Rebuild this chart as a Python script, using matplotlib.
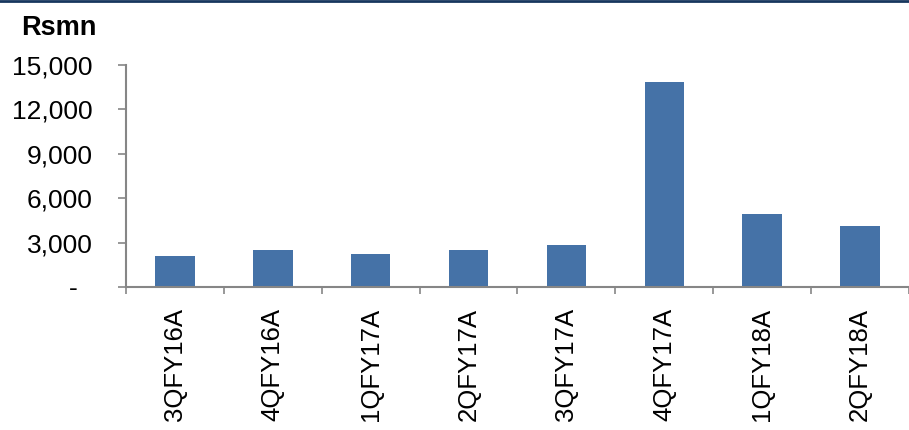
import numpy as np
import matplotlib.pyplot as plt
from matplotlib.lines import Line2D

plt.rcParams['font.family'] = ['Liberation Sans', 'DejaVu Sans']

# quarterly values, Rs mn
quarters = ["3QFY16A", "4QFY16A", "1QFY17A", "2QFY17A",
            "3QFY17A", "4QFY17A", "1QFY18A", "2QFY18A"]
values = [2100, 2500, 2230, 2500, 2850, 13850, 4930, 4120]
yticks = [0, 3000, 6000, 9000, 12000, 15000]
ytick_labels = ["-  ", "3,000", "6,000", "9,000", "12,000", "15,000"]

fig = plt.figure(figsize=(9.09, 4.30), dpi=100)
ax = fig.add_axes([0.1386, 0.3326, 1 - 0.1386, 0.8488 - 0.3326])

x = np.arange(len(quarters))
ax.bar(x, values, width=0.404, color="#4572A7", zorder=2)

ax.set_ylim(0, 15000)
ax.set_xlim(-0.5, 7.41)
ax.set_yticks(yticks)
ax.set_yticklabels(ytick_labels)
ax.set_xticks(x)
ax.set_xticklabels(quarters, rotation=90, va="top", ha="center")
ax.set_xticks(np.arange(-0.5, len(quarters), 1), minor=True)

grey = "#868686"
for s in ["top", "right"]:
    ax.spines[s].set_visible(False)
for s in ["left", "bottom"]:
    ax.spines[s].set_color(grey)
    ax.spines[s].set_linewidth(1.5)

ax.tick_params(axis="y", direction="out", length=6, width=1.2, color=grey,
               labelsize=19, pad=18)
ax.tick_params(axis="x", which="major", length=0, labelsize=18.5, pad=15)
ax.tick_params(axis="x", which="minor", direction="out", length=5, width=1.2,
               color=grey)

fig.text(21 / 909, 1 - 35 / 430, "Rsmn", fontsize=19.5, fontweight="bold",
         ha="left", va="baseline")

# navy rule across the top
fig.add_artist(Line2D([0, 1], [0.998, 0.998], transform=fig.transFigure,
                      color="#17375E", linewidth=2))

fig.savefig("out.png", dpi=100)
plt.close()
